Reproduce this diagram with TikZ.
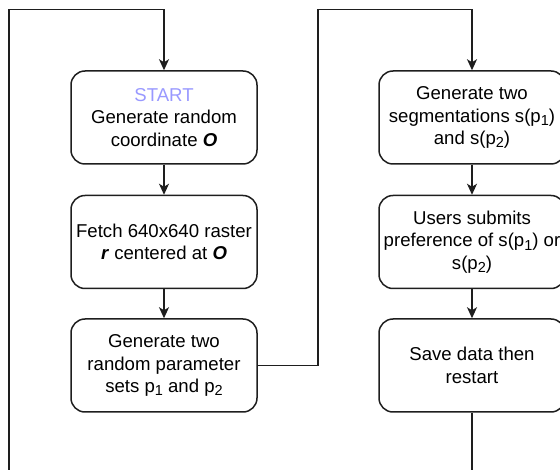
\documentclass[tikz,border=0pt]{standalone}
\usepackage{fontspec}
\setmainfont{Liberation Sans}
\usetikzlibrary{arrows.meta}
\definecolor{startblue}{RGB}{153,153,255}
\definecolor{linegray}{RGB}{30,30,30}
\newcommand\mysub[1]{\raisebox{-0.35ex}{\fontsize{14.5}{14.5}\selectfont #1}}
\tikzset{
  stepbox/.style={draw=linegray, line width=1.5pt, rounded corners=14pt,
    minimum width=186pt, minimum height=93pt, inner sep=0pt},
  boxtext/.style={align=center, inner sep=0pt, font=\fontsize{18.6}{22.3}\selectfont, text=black},
  conn/.style={draw=linegray, line width=1.5pt},
  arr/.style={conn, -{Stealth[length=11pt, width=10pt, inset=3pt]}}
}
\begin{document}
\begin{tikzpicture}[x=1pt, y=-1pt]
\useasboundingbox (0,0) rectangle (560,470);
\clip (0,0) rectangle (560,470);
% left column
\node[stepbox] (b1) at (164,117.5) {};
\node[boxtext] (b1t) at (b1) {\textcolor{startblue}{START}\\Generate random\\coordinate \textbf{\textit{O}}};
\node[stepbox] (b2) at (164,242) {};
\node[boxtext] (b2t) at (b2) {Fetch 640x640 raster\\\textbf{\textit{r}} centered at \textbf{\textit{O}}};
\node[stepbox] (b3) at (164,365.5) {};
\node[boxtext] (b3t) at (b3) {Generate two\\random parameter\\sets p\mysub{1} and p\mysub{2}};
% right column
\node[stepbox] (r1) at (472,117.5) {};
\node[boxtext] (r1t) at (r1) {Generate two\\segmentations s(p\mysub{1})\\and s(p\mysub{2})};
\node[stepbox] (r2) at (472,242) {};
\node[boxtext] (r2t) at (r2) {Users submits\\preference of s(p\mysub{1}) or\\s(p\mysub{2})};
\node[stepbox] (r3) at (472,365.5) {};
\node[boxtext] (r3t) at (r3) {Save data then\\restart};
% connectors
\draw[arr] (b1) -- (b2);
\draw[arr] (b2) -- (b3);
\draw[arr] (r1) -- (r2);
\draw[arr] (r2) -- (r3);
\coordinate (m1) at (318,365.5);
\coordinate (m2) at (318,9.5);
\coordinate (m3) at (472,9.5);
\draw[arr] (b3.east) -- (m1) -- (m2) -- (m3) -- (r1.north);
\coordinate (l1) at (472,500);
\coordinate (l2) at (9,500);
\coordinate (l3) at (9,9.5);
\coordinate (l4) at (164,9.5);
\draw[arr] (r3.south) -- (l1) -- (l2) -- (l3) -- (l4) -- (b1.north);
\end{tikzpicture}
\end{document}
